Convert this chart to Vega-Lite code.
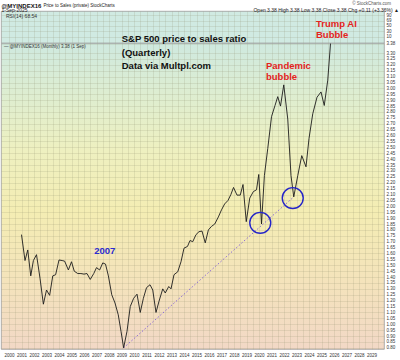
{
  "$schema": "https://vega.github.io/schema/vega-lite/v6.json",
  "padding": 0,
  "spacing": 0,
  "bounds": "flush",
  "background": "white",
  "config": {
    "view": {"stroke": "#9a9a9a", "strokeWidth": 0.8},
    "axis": {"labelFont": "Liberation Sans", "labelFontSize": 4.5, "labelColor": "#333333", "title": null, "ticks": false, "domain": false, "gridColor": "#8f8f70", "gridOpacity": 0.3, "gridWidth": 0.6, "labelOverlap": false, "labelPadding": 2},
    "text": {"font": "Liberation Sans"}
  },
  "datasets": {
    "ps": [
      {"t": 2001.0, "v": 1.76}, {"t": 2001.28, "v": 1.54}, {"t": 2001.5, "v": 1.63}, {"t": 2001.74, "v": 1.41}, {"t": 2001.95, "v": 1.54},
      {"t": 2002.2, "v": 1.59}, {"t": 2002.48, "v": 1.39}, {"t": 2002.75, "v": 1.17}, {"t": 2003.0, "v": 1.29}, {"t": 2003.25, "v": 1.245},
      {"t": 2003.5, "v": 1.41}, {"t": 2003.73, "v": 1.42}, {"t": 2004.0, "v": 1.545}, {"t": 2004.25, "v": 1.54}, {"t": 2004.45, "v": 1.535},
      {"t": 2004.75, "v": 1.46}, {"t": 2005.0, "v": 1.53}, {"t": 2005.22, "v": 1.45}, {"t": 2005.5, "v": 1.43}, {"t": 2005.75, "v": 1.43},
      {"t": 2006.0, "v": 1.425}, {"t": 2006.24, "v": 1.43}, {"t": 2006.5, "v": 1.38}, {"t": 2006.78, "v": 1.43}, {"t": 2007.0, "v": 1.48},
      {"t": 2007.25, "v": 1.46}, {"t": 2007.5, "v": 1.52}, {"t": 2007.72, "v": 1.51}, {"t": 2007.95, "v": 1.41}, {"t": 2008.22, "v": 1.25},
      {"t": 2008.48, "v": 1.18}, {"t": 2008.74, "v": 1.08}, {"t": 2008.96, "v": 0.94}, {"t": 2009.17, "v": 0.8}, {"t": 2009.44, "v": 0.94},
      {"t": 2009.7, "v": 1.15}, {"t": 2009.97, "v": 1.22}, {"t": 2010.24, "v": 1.255}, {"t": 2010.5, "v": 1.1}, {"t": 2010.75, "v": 1.22},
      {"t": 2011.0, "v": 1.31}, {"t": 2011.28, "v": 1.335}, {"t": 2011.5, "v": 1.29}, {"t": 2011.76, "v": 1.1}, {"t": 2012.0, "v": 1.195},
      {"t": 2012.3, "v": 1.3}, {"t": 2012.5, "v": 1.265}, {"t": 2012.78, "v": 1.32}, {"t": 2012.96, "v": 1.3}, {"t": 2013.2, "v": 1.42},
      {"t": 2013.5, "v": 1.445}, {"t": 2013.76, "v": 1.53}, {"t": 2014.0, "v": 1.645}, {"t": 2014.28, "v": 1.66}, {"t": 2014.48, "v": 1.71},
      {"t": 2014.7, "v": 1.7}, {"t": 2014.96, "v": 1.76}, {"t": 2015.2, "v": 1.785}, {"t": 2015.44, "v": 1.79}, {"t": 2015.7, "v": 1.69},
      {"t": 2015.95, "v": 1.8}, {"t": 2016.2, "v": 1.83}, {"t": 2016.46, "v": 1.85}, {"t": 2016.75, "v": 1.91}, {"t": 2017.0, "v": 1.97},
      {"t": 2017.25, "v": 2.02}, {"t": 2017.52, "v": 2.05}, {"t": 2017.75, "v": 2.1}, {"t": 2017.96, "v": 2.16}, {"t": 2018.24, "v": 2.095},
      {"t": 2018.5, "v": 2.095}, {"t": 2018.72, "v": 2.185}, {"t": 2018.98, "v": 1.87}, {"t": 2019.26, "v": 2.07}, {"t": 2019.55, "v": 2.125},
      {"t": 2019.8, "v": 2.14}, {"t": 2019.98, "v": 2.27}, {"t": 2020.2, "v": 1.85}, {"t": 2020.43, "v": 2.26}, {"t": 2020.7, "v": 2.49},
      {"t": 2021.0, "v": 2.76}, {"t": 2021.28, "v": 2.855}, {"t": 2021.5, "v": 2.93}, {"t": 2021.72, "v": 2.85}, {"t": 2021.98, "v": 3.03},
      {"t": 2022.3, "v": 2.74}, {"t": 2022.56, "v": 2.26}, {"t": 2022.78, "v": 2.08}, {"t": 2023.1, "v": 2.26}, {"t": 2023.42, "v": 2.43},
      {"t": 2023.76, "v": 2.335}, {"t": 2024.0, "v": 2.575}, {"t": 2024.3, "v": 2.785}, {"t": 2024.64, "v": 2.925}, {"t": 2024.96, "v": 2.97},
      {"t": 2025.22, "v": 2.855}, {"t": 2025.5, "v": 3.07}, {"t": 2025.72, "v": 3.38}
    ],
    "trend": [{"t": 2009.17, "v": 0.8}, {"t": 2022.78, "v": 2.08}],
    "circles": [{"t": 2020.1, "v": 1.86}, {"t": 2022.7, "v": 2.07}]
  },
  "vconcat": [
    {
      "width": 383,
      "height": 32,
      "view": {"fill": "#d0eae2", "stroke": "#9a9a9a", "strokeWidth": 0.8},
      "encoding": {
        "x": {"field": "t", "type": "quantitative", "scale": {"domain": [1999.36, 2030], "nice": false, "zero": false},
              "axis": {"labels": false, "grid": true, "values": [2000, 2000.5, 2001, 2001.5, 2002, 2002.5, 2003, 2003.5, 2004, 2004.5, 2005, 2005.5, 2006, 2006.5, 2007, 2007.5, 2008, 2008.5, 2009, 2009.5, 2010, 2010.5, 2011, 2011.5, 2012, 2012.5, 2013, 2013.5, 2014, 2014.5, 2015, 2015.5, 2016, 2016.5, 2017, 2017.5, 2018, 2018.5, 2019, 2019.5, 2020, 2020.5, 2021, 2021.5, 2022, 2022.5, 2023, 2023.5, 2024, 2024.5, 2025, 2025.5, 2026, 2026.5, 2027, 2027.5, 2028, 2028.5, 2029, 2029.5]}},
        "y": {"field": "v", "type": "quantitative", "scale": {"domain": [-13, 105], "nice": false, "zero": false},
              "axis": {"orient": "right", "values": [10, 30, 50, 68.54, 90], "grid": true, "format": "~f"}},
        "text": {"field": "label"}
      },
      "layer": [
        {"data": {"values": [{"t": 1999.4, "v": 125, "label": "@MYINDEX16"}]}, "mark": {"type": "text", "align": "left", "fontSize": 6, "fontWeight": "bold", "color": "#111111"}},
        {"data": {"values": [{"t": 2002.75, "v": 125, "label": "Price to Sales (private)  StockCharts"}]}, "mark": {"type": "text", "align": "left", "fontSize": 4.5, "color": "#222222"}},
        {"data": {"values": [{"t": 1999.4, "v": 107, "label": "1-Sep-2025"}]}, "mark": {"type": "text", "align": "left", "fontSize": 5, "color": "#222222"}},
        {"data": {"values": [{"t": 2030.56, "v": 131, "label": "© StockCharts.com"}]}, "mark": {"type": "text", "align": "right", "fontSize": 4.5, "color": "#555555"}},
        {"data": {"values": [{"t": 2031.2, "v": 108.5, "label": "Open 3.38  High 3.38  Low 3.38  Close 3.38  Chg +0.11 (+3.36%) ▲"}]}, "mark": {"type": "text", "align": "right", "fontSize": 5, "color": "#222222"}},
        {"data": {"values": [{"t": 1999.76, "v": 88, "label": "RSI(14) 68.54"}]}, "mark": {"type": "text", "align": "left", "fontSize": 5, "color": "#333333"}}
      ]
    },
    {
      "width": 383,
      "height": 306,
      "view": {"fill": {"gradient": "linear", "x1": 0, "y1": 0, "x2": 0, "y2": 1, "stops": [
        {"offset": 0, "color": "#cfe9df"}, {"offset": 0.15, "color": "#dcedd2"}, {"offset": 0.35, "color": "#eef0c0"},
        {"offset": 0.55, "color": "#f4edb3"}, {"offset": 0.8, "color": "#f4e2bc"}, {"offset": 1, "color": "#f2d8c6"}]},
        "stroke": "#9a9a9a", "strokeWidth": 0.8},
      "encoding": {
        "x": {"field": "t", "type": "quantitative", "scale": {"domain": [1999.36, 2030], "nice": false, "zero": false},
              "axis": {"orient": "bottom", "grid": true, "labelPadding": 3, "labelExpr": "datum.value % 1 === 0 ? '' + datum.value : ''",
                       "values": [2000, 2000.5, 2001, 2001.5, 2002, 2002.5, 2003, 2003.5, 2004, 2004.5, 2005, 2005.5, 2006, 2006.5, 2007, 2007.5, 2008, 2008.5, 2009, 2009.5, 2010, 2010.5, 2011, 2011.5, 2012, 2012.5, 2013, 2013.5, 2014, 2014.5, 2015, 2015.5, 2016, 2016.5, 2017, 2017.5, 2018, 2018.5, 2019, 2019.5, 2020, 2020.5, 2021, 2021.5, 2022, 2022.5, 2023, 2023.5, 2024, 2024.5, 2025, 2025.5, 2026, 2026.5, 2027, 2027.5, 2028, 2028.5, 2029, 2029.5]}},
        "y": {"field": "v", "type": "quantitative", "scale": {"domain": [0.79, 3.385], "nice": false, "zero": false},
              "axis": {"orient": "right", "grid": true, "format": ".2f",
                       "values": [0.8, 0.85, 0.9, 0.95, 1.0, 1.05, 1.1, 1.15, 1.2, 1.25, 1.3, 1.35, 1.4, 1.45, 1.5, 1.55, 1.6, 1.65, 1.7, 1.75, 1.8, 1.85, 1.9, 1.95, 2.0, 2.05, 2.1, 2.15, 2.2, 2.25, 2.3, 2.35, 2.4, 2.45, 2.5, 2.55, 2.6, 2.65, 2.7, 2.75, 2.8, 2.85, 2.9, 2.95, 3.0, 3.05, 3.1, 3.15, 3.2, 3.25, 3.3, 3.38]}}
      },
      "layer": [
        {"data": {"name": "trend"}, "mark": {"type": "line", "color": "#8a6ad6", "strokeWidth": 1, "strokeDash": [1.5, 2]}},
        {"data": {"name": "ps"}, "mark": {"type": "line", "color": "#1c1c1c", "strokeWidth": 0.9}},
        {"data": {"name": "circles"}, "mark": {"type": "point", "shape": "circle", "filled": false, "size": 440, "color": "#2424c8", "strokeWidth": 1.4, "opacity": 1}},
        {"data": {"values": [
          {"t": 2009.02, "v": 3.419, "label": "S&P 500 price to sales ratio"},
          {"t": 2009.02, "v": 3.3, "label": "(Quarterly)"},
          {"t": 2009.02, "v": 3.186, "label": "Data via Multpl.com"}]},
         "mark": {"type": "text", "align": "left", "fontSize": 9.5, "fontWeight": "bold", "color": "#111111"},
         "encoding": {"text": {"field": "label"}}},
        {"data": {"values": [
          {"t": 2024.56, "v": 3.546, "label": "Trump AI"},
          {"t": 2024.56, "v": 3.453, "label": "Bubble"},
          {"t": 2020.56, "v": 3.187, "label": "Pandemic"},
          {"t": 2020.56, "v": 3.097, "label": "bubble"}]},
         "mark": {"type": "text", "align": "left", "fontSize": 9.5, "fontWeight": "bold", "color": "#e4231d"},
         "encoding": {"text": {"field": "label"}}},
        {"data": {"values": [{"t": 2006.82, "v": 1.618, "label": "2007"}]},
         "mark": {"type": "text", "align": "left", "fontSize": 9.5, "fontWeight": "bold", "color": "#2b2bd0"},
         "encoding": {"text": {"field": "label"}}},
        {"data": {"values": [{"t": 1999.6, "v": 3.351, "label": "— @MYINDEX16 (Monthly) 3.38 (1 Sep)"}]},
         "mark": {"type": "text", "align": "left", "fontSize": 4.5, "color": "#333333"},
         "encoding": {"text": {"field": "label"}}}
      ]
    }
  ]
}
